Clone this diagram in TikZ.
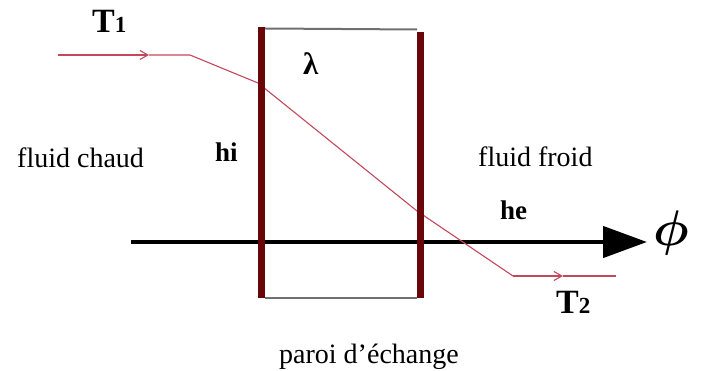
\documentclass[tikz,border=0pt]{standalone}
\usepackage{fontspec}
\setmainfont{Liberation Serif}
\usepackage{amsmath,bm}
\usetikzlibrary{arrows.meta}
\definecolor{WallRed}{RGB}{104, 6, 10}
\definecolor{ProfileRed}{RGB}{196, 72, 92}
\definecolor{FrameGrey}{RGB}{112, 112, 112}

\begin{document}
\begin{tikzpicture}[
      x=1pt, y=-1pt,
      label/.style={font=\fontsize{28}{30}\selectfont, inner sep=0pt, anchor=base west},
      symb/.style={font=\fontsize{27}{29}\selectfont\bfseries, inner sep=0pt, anchor=base west},
      temp/.style={font=\fontsize{34}{36}\selectfont\bfseries, inner sep=0pt, anchor=base west},
      wall/.style={line width=7pt, color=WallRed},
      frame/.style={line width=2pt, color=FrameGrey},
      profile/.style={line width=1.1pt, color=ProfileRed},
      flow/.style={profile, -{Straight Barb[length=8pt, width=9pt]}},
      flux/.style={line width=4.5pt, -{Triangle[length=44pt, width=31pt]}}
    ]
      \useasboundingbox (0,0) rectangle (706,371);

      % Wall corners
      \coordinate (lwtop) at (261.5,27);
      \coordinate (lwbot) at (261.5,298);
      \coordinate (rwtop) at (420,32);
      \coordinate (rwbot) at (420,298);
      \coordinate (ftl) at (265,28.5);
      \coordinate (ftr) at (417,29.5);
      \coordinate (fbl) at (265,297.5);
      \coordinate (fbr) at (417,297.5);

      % Temperature profile
      \coordinate (p0) at (58,55);
      \coordinate (p1) at (149,55);
      \coordinate (p2) at (190,55);
      \coordinate (p3) at (258,83);
      \coordinate (p4) at (417,211);
      \coordinate (p5) at (513,276);
      \coordinate (p6) at (563,276);
      \coordinate (p7) at (616,276);

      % Flux axis
      \coordinate (axs) at (131,242);
      \coordinate (axe) at (647,242);

      % Labels
      \node[temp] (t1) at (92,33) {T{\fontsize{23}{25}\selectfont 1}};
      \node[temp] (t2) at (556,313) {T{\fontsize{23}{25}\selectfont 2}};
      \node[label] (chaud) at (17,168) {fluid chaud};
      \node[label] (froid) at (478,167) {fluid froid};
      \node[label] (paroi) at (279,363) {paroi d'échange};
      \node[symb] (hi) at (215,162) {hi};
      \node[symb] (he) at (500,220) {he};
      \node[symb, font=\fontsize{31}{33}\selectfont\bfseries] (lam) at (303,75) {λ};
      \node[inner sep=0pt] (phi) at (671,233) {\scalebox{5}{$\bm{\phi}$}};

      % Frame of the wall
      \draw[frame] (ftl) -- (ftr);
      \draw[frame] (fbl) -- (fbr);

      % Flux
      \draw[flux] (axs) -- (axe);

      % Profile
      \draw[flow] (p0) -- (p1);
      \draw[profile] (p1) -- (p2) -- (p3) -- (p4) -- (p5);
      \draw[flow] (p5) -- (p6);
      \draw[profile] (p6) -- (p7);

      % Walls
      \draw[wall] (lwtop) -- (lwbot);
      \draw[wall] (rwtop) -- (rwbot);
    \end{tikzpicture}
\end{document}
